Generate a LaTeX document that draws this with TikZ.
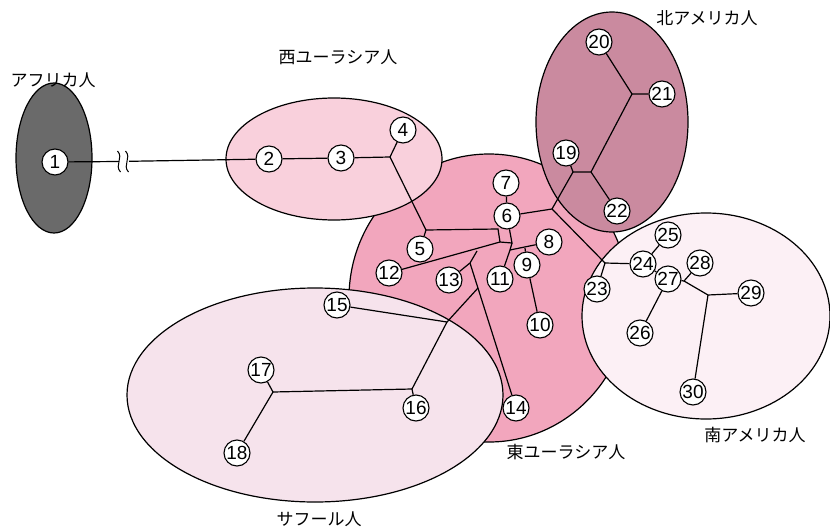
\documentclass[tikz,border=0pt]{standalone}
\usepackage{fontspec}
\setmainfont{Liberation Sans}
\newfontfamily\jp{Noto Sans CJK JP}
\definecolor{afr}{HTML}{6A6A6A}
\definecolor{weu}{HTML}{F9D0DC}
\definecolor{eeu}{HTML}{F2A6BD}
\definecolor{nam}{HTML}{CA8A9F}
\definecolor{sam}{HTML}{FCF0F5}
\definecolor{sah}{HTML}{F6E3EC}
\tikzset{
  region/.style={draw=black, line width=1.2pt},
  hap/.style={circle, draw=black, fill=white, line width=1.1pt, minimum size=26pt,
              inner sep=0pt, font=\fontsize{19}{19}\selectfont},
  link/.style={draw=black, line width=1.2pt},
  grp/.style={font=\jp\fontsize{17}{17}\selectfont, inner sep=0pt}
}
\begin{document}
\begin{tikzpicture}[x=1pt,y=-1pt]
\useasboundingbox (0,0) rectangle (830,530);
\fill[white] (0,0) rectangle (830,530);

% population regions
\filldraw[region, fill=eeu] (489,298) ellipse [x radius=140, y radius=144];
\filldraw[region, fill=weu] (334,159) ellipse [x radius=108, y radius=61];
\filldraw[region, fill=nam] (612,122) ellipse [x radius=76, y radius=110];
\filldraw[region, fill=sam] (706,316) ellipse [x radius=124, y radius=103];
\filldraw[region, fill=sah] (315,395) ellipse [x radius=188, y radius=107];
\filldraw[region, fill=afr] (54,158) ellipse [x radius=38, y radius=75];

% group labels
\node[grp] (lafr) at (53,80) {アフリカ人};
\node[grp] (lweu) at (338,57) {西ユーラシア人};
\node[grp] (lnam) at (707,18) {北アメリカ人};
\node[grp] (leeu) at (566,452) {東ユーラシア人};
\node[grp] (lsam) at (755,435) {南アメリカ人};
\node[grp] (lsah) at (319,519) {サフール人};

% haplotypes
\node[hap] (n1) at (55,162) {1};
\node[hap] (n2) at (269,159) {2};
\node[hap] (n3) at (341,158) {3};
\node[hap] (n4) at (403,130) {4};
\node[hap] (n5) at (420,249) {5};
\node[hap] (n6) at (507,216) {6};
\node[hap] (n7) at (506,183) {7};
\node[hap] (n8) at (549,242) {8};
\node[hap] (n9) at (527,265) {9};
\node[hap] (n10) at (540,325) {10};
\node[hap] (n11) at (500,279) {11};
\node[hap] (n12) at (389,273) {12};
\node[hap] (n13) at (449,280) {13};
\node[hap] (n14) at (516,408) {14};
\node[hap] (n15) at (337,305) {15};
\node[hap] (n16) at (416,408) {16};
\node[hap] (n17) at (261,370) {17};
\node[hap] (n18) at (237,453) {18};
\node[hap] (n19) at (566,153) {19};
\node[hap] (n20) at (599,42) {20};
\node[hap] (n21) at (662,94) {21};
\node[hap] (n22) at (617,211) {22};
\node[hap] (n23) at (597,289) {23};
\node[hap] (n24) at (643,264) {24};
\node[hap] (n25) at (668,235) {25};
\node[hap] (n26) at (640,333) {26};
\node[hap] (n27) at (668,279) {27};
\node[hap] (n28) at (700,263) {28};
\node[hap] (n29) at (751,293) {29};
\node[hap] (n30) at (693,392) {30};

% branch points
\coordinate (b1) at (119,161.5);
\coordinate (b2) at (129,161.3);
\coordinate (j34) at (390,157);
\coordinate (j5) at (426,230);
\coordinate (jh) at (498,229);
\coordinate (jA) at (500,242);
\coordinate (jB) at (512,243);
\coordinate (jC) at (510,250);
\coordinate (jD) at (525,248);
\coordinate (j12) at (477,251);
\coordinate (j13) at (470,263);
\coordinate (j14) at (478,288);
\coordinate (j15) at (447,322);
\coordinate (j16) at (412,389);
\coordinate (j17) at (273,392);
\coordinate (j6) at (552,209);
\coordinate (j19) at (573,172);
\coordinate (j22) at (591,172);
\coordinate (j21) at (632,94);
\coordinate (j23) at (605,263);
\coordinate (j28) at (684,281);
\coordinate (j29) at (708,295);

% links
\draw[link] (n1) -- (b1);
\draw[link] (b2) -- (n2);
\draw[link] (n2) -- (n3) -- (j34) -- (n4);
\draw[link] (j34) -- (j5) -- (n5);
\draw[link] (j5) -- (jh) -- (jA);
\draw[link] (n7) -- (n6);
\draw[link] (n6) -- (jB) -- (jA);
\draw[link] (jB) -- (jC) -- (n11);
\draw[link] (jC) -- (n8);
\draw[link] (jD) -- (n9);
\draw[link] (n9) -- (n10);
\draw[link] (jA) -- (n12);
\draw[link] (j12) -- (j13) -- (n13);
\draw[link] (j13) -- (n14);
\draw[link] (j14) -- (j15);
\draw[link] (n15) -- (j15) -- (j16) -- (n16);
\draw[link] (j16) -- (j17) -- (n17);
\draw[link] (j17) -- (n18);
\draw[link] (n6) -- (j6) -- (j19) -- (n19);
\draw[link] (j19) -- (j22) -- (n22);
\draw[link] (j22) -- (j21) -- (n21);
\draw[link] (j21) -- (n20);
\draw[link] (j6) -- (j23) -- (n23);
\draw[link] (j23) -- (n24) -- (n25);
\draw[link] (n24) -- (n27) -- (n26);
\draw[link] (n27) -- (j28) -- (n28);
\draw[link] (j28) -- (j29) -- (n29);
\draw[link] (j29) -- (n30);

% break marks on the long branch
\draw[link, line width=1pt] (117.5,151) .. controls (124,158) and (114,165) .. (120.5,172);
\draw[link, line width=1pt] (125.5,151) .. controls (132,158) and (122,165) .. (128.5,172);
\end{tikzpicture}
\end{document}
